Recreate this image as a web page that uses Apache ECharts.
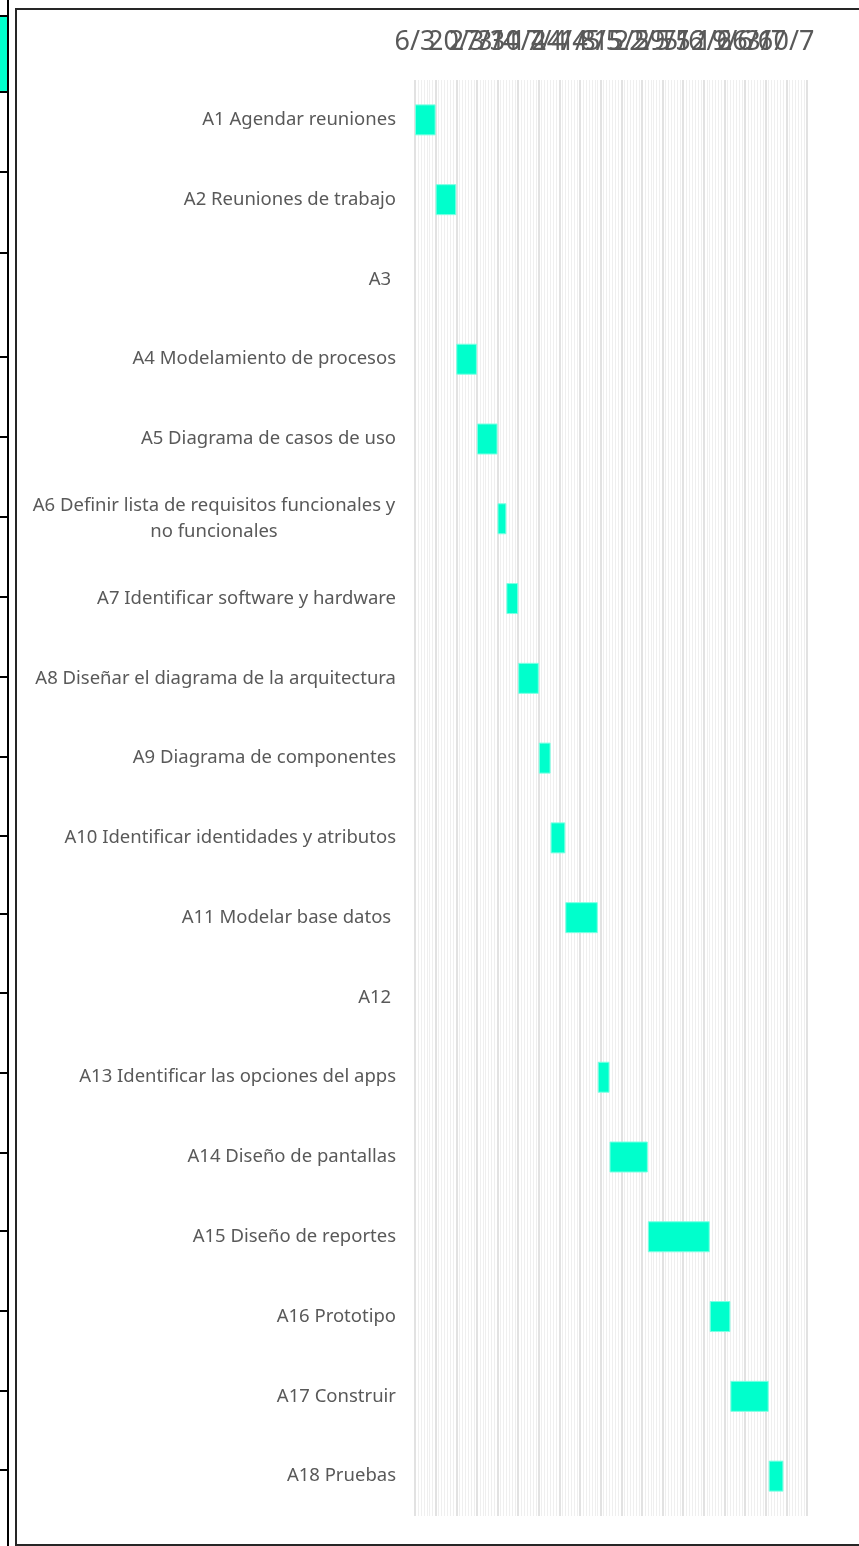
<!DOCTYPE html>
<html>
<head>
<meta charset="utf-8">
<script src="https://cdn.jsdelivr.net/npm/echarts@6/dist/echarts.min.js"></script>
<style>
  html, body { margin: 0; padding: 0; background: #fff; }
  #chart { width: 859px; height: 1546px; }
</style>
</head>
<body>
<div id="chart"></div>
<script>
// Activities of the project plan (top to bottom)
const tasks = [
  'A1 Agendar reuniones',
  'A2 Reuniones de trabajo',
  'A3 ',
  'A4 Modelamiento de procesos',
  'A5 Diagrama de casos de uso',
  'A6 Definir lista de requisitos funcionales y\nno funcionales',
  'A7 Identificar software y hardware',
  'A8 Diseñar el diagrama de la arquitectura',
  'A9 Diagrama de componentes',
  'A10 Identificar identidades y atributos',
  'A11 Modelar base datos ',
  'A12 ',
  'A13 Identificar las opciones del apps',
  'A14 Diseño de pantallas',
  'A15 Diseño de reportes',
  'A16 Prototipo',
  'A17 Construir',
  'A18 Pruebas'
];

// Start day (counted from the project start) and duration in days
const startDay = [0, 7, null, 14, 21, 28, 31, 35, 42, 46, 51, null, 62, 66, 79, 100, 107, 120];
const durationDays = [7, 7, null, 7, 7, 3, 4, 7, 4, 5, 11, null, 4, 13, 21, 7, 13, 5];

// Weekly date labels along the top axis
const weekLabels = ['6/3', '13/3', '20/3', '27/3', '3/4', '10/4', '17/4', '24/4', '1/5', '8/5',
  '15/5', '22/5', '29/5', '5/6', '12/6', '19/6', '26/6', '3/7', '10/7'];

const chart = echarts.init(document.getElementById('chart'));

const TEAL = '#00FFCC';
const FONT = 'Noto Sans';
const LABEL_SIZE = 18.5;

// Row dividers of the neighbouring table at the left edge
const tableRows = [92, 172, 253, 357, 437, 517, 597, 677, 757, 836, 914, 993, 1073, 1153, 1231, 1311, 1391, 1470];

const graphics = [
  { type: 'rect', shape: { x: 16, y: 9, width: 860, height: 1536 },
    style: { fill: 'none', stroke: '#262626', lineWidth: 2 }, z: 100 },
  { type: 'line', shape: { x1: 8, y1: 0, x2: 8, y2: 1546 },
    style: { stroke: '#000', lineWidth: 2 }, z: 100 },
  { type: 'rect', shape: { x: 0, y: 16, width: 7, height: 76 },
    style: { fill: TEAL }, z: 99 },
  { type: 'line', shape: { x1: 0, y1: 16, x2: 8, y2: 16 },
    style: { stroke: '#000', lineWidth: 2 }, z: 100 }
];
tableRows.forEach(function (y) {
  graphics.push({ type: 'line', shape: { x1: 0, y1: y, x2: 8, y2: y },
    style: { stroke: '#000', lineWidth: 2 }, z: 100 });
});

// Wrapped task names are centred line by line inside their block
function taskLabel(v) {
  const lines = v.split('\n');
  if (lines.length === 1) return v;
  return lines.map(function (l) { return '{c|' + l + '}'; }).join('\n');
}
const wrapWidth = echarts.format.getTextRect
  ? echarts.format.getTextRect(tasks[5].split('\n')[0], LABEL_SIZE + 'px ' + FONT).width
  : 363;

chart.setOption({
  animation: false,
  backgroundColor: '#fff',
  graphic: graphics,
  grid: { left: 415, top: 80, width: 392, height: 1436, containLabel: false },
  xAxis: {
    type: 'value',
    position: 'top',
    min: 0,
    max: 133,
    interval: 7,
    axisLine: { show: false },
    axisTick: { show: false },
    axisLabel: {
      showMinLabel: true,
      showMaxLabel: false,
      hideOverlap: false,
      margin: 24,
      color: '#595959',
      fontFamily: FONT,
      fontSize: 27,
      formatter: function (v) { return weekLabels[Math.round(v / 7)] || ''; }
    },
    splitLine: { show: true, lineStyle: { color: '#d9d9d9', width: 1.5 } },
    minorTick: { show: false, splitNumber: 7 },
    minorSplitLine: { show: true, lineStyle: { color: '#efefef', width: 1 } }
  },
  yAxis: {
    type: 'category',
    inverse: true,
    data: tasks,
    axisLine: { show: false },
    axisTick: { show: false },
    splitLine: { show: false },
    axisLabel: {
      margin: 19,
      color: '#595959',
      fontFamily: FONT,
      fontSize: LABEL_SIZE,
      lineHeight: 26,
      formatter: taskLabel,
      rich: {
        c: { width: Math.ceil(wrapWidth) + 1, align: 'center', color: '#595959', fontFamily: FONT, fontSize: LABEL_SIZE, lineHeight: 26 }
      }
    }
  },
  series: [
    {
      type: 'bar',
      stack: 'plan',
      silent: true,
      itemStyle: { color: 'transparent' },
      data: startDay,
      barWidth: 31
    },
    {
      type: 'bar',
      stack: 'plan',
      itemStyle: { color: TEAL, borderColor: '#7dffe3', borderWidth: 1 },
      data: durationDays,
      barWidth: 31
    }
  ]
});
</script>
</body>
</html>
